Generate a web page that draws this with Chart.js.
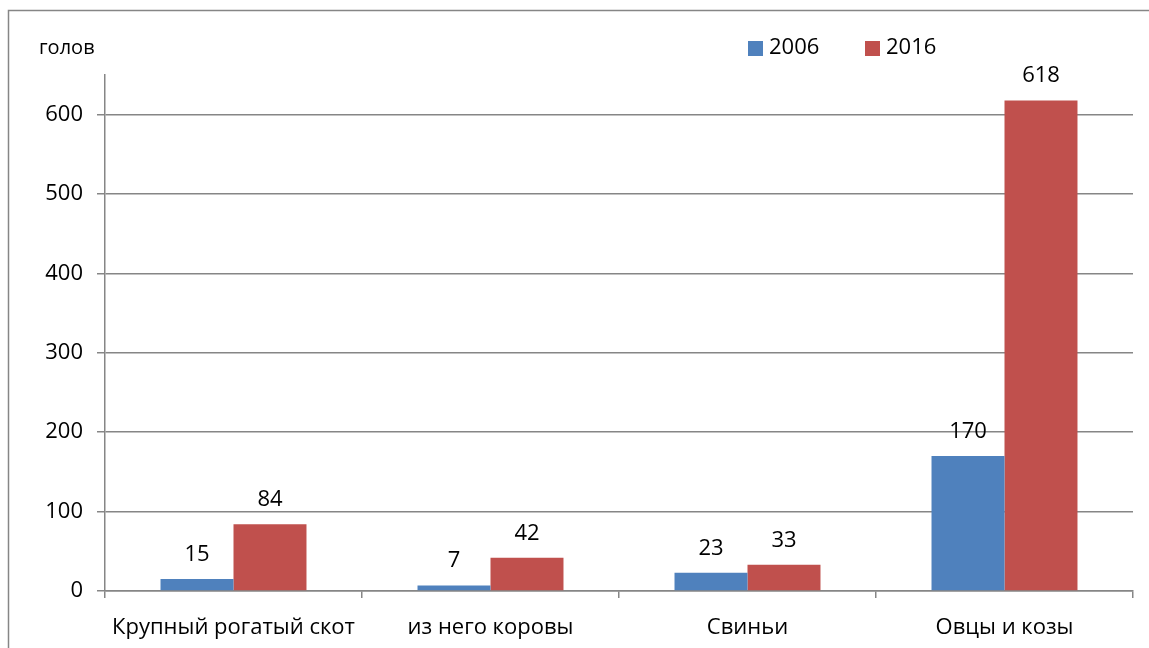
<!DOCTYPE html>
<html>
<head>
<meta charset="utf-8">
<script src="https://cdn.jsdelivr.net/npm/chart.js@4"></script>
<style>
    html, body { margin: 0; padding: 0; background: #fff; }
    #wrap { width: 1149px; height: 648px; position: relative; }
</style>
</head>
<body>
<div id="wrap"><canvas id="livestockChart" width="1149" height="648"></canvas></div>
<script>
// Categories and values
const categories = ['Крупный рогатый скот', 'из него коровы', 'Свиньи', 'Овцы и козы'];
const values2006 = [15, 7, 23, 170];
const values2016 = [84, 42, 33, 618];
const seriesLabels = ['2006', '2016'];
const seriesColors = ['#4F81BD', '#C0504D'];
const yTicks = [0, 100, 200, 300, 400, 500, 600];
const unitLabel = 'голов';

const fontFamily = "'Open Sans', 'Liberation Sans', sans-serif";
const axisGray = '#868686';

// Frame, unit label, legend and value labels
const decorPlugin = {
    id: 'decor',
    beforeDraw(chart) {
        const ctx = chart.ctx;
        ctx.save();
        ctx.strokeStyle = axisGray;
        ctx.lineWidth = 1.5;
        ctx.beginPath();
        ctx.moveTo(8.5, chart.height + 2);
        ctx.lineTo(8.5, 10.5);
        ctx.lineTo(chart.width + 2, 10.5);
        ctx.stroke();
        ctx.restore();
    },
    afterDraw(chart) {
        const ctx = chart.ctx;
        ctx.save();
        ctx.fillStyle = '#000';
        ctx.textBaseline = 'middle';
        ctx.font = '20px ' + fontFamily;
        ctx.fillText(unitLabel, 39, 48);

        // legend
        const legendX = [748, 865];
        ctx.font = '22px ' + fontFamily;
        chart.data.datasets.forEach((ds, i) => {
            ctx.fillStyle = ds.backgroundColor;
            ctx.fillRect(legendX[i], 41, 15, 15);
            ctx.fillStyle = '#000';
            ctx.fillText(ds.label, legendX[i] + 21, 48);
        });

        // value labels above bars
        ctx.font = '22px ' + fontFamily;
        ctx.textAlign = 'center';
        ctx.textBaseline = 'alphabetic';
        chart.data.datasets.forEach((ds, i) => {
            chart.getDatasetMeta(i).data.forEach((bar, j) => {
                ctx.fillText(String(ds.data[j]), bar.x, bar.y - 18);
            });
        });
        ctx.restore();
    }
};

new Chart(document.getElementById('livestockChart').getContext('2d'), {
    type: 'bar',
    data: {
        labels: categories,
        datasets: [
            { label: seriesLabels[0], data: values2006, backgroundColor: seriesColors[0],
              categoryPercentage: 0.568, barPercentage: 1 },
            { label: seriesLabels[1], data: values2016, backgroundColor: seriesColors[1],
              categoryPercentage: 0.568, barPercentage: 1 }
        ]
    },
    options: {
        responsive: false,
        animation: false,
        layout: { padding: { left: 0, right: 16, top: 75, bottom: 0 } },
        plugins: {
            legend: { display: false },
            tooltip: { enabled: false }
        },
        scales: {
            x: {
                afterFit: scale => { scale.height = 57; },
                grid: {
                    offset: true,
                    drawOnChartArea: false,
                    color: axisGray,
                    lineWidth: 1.5,
                    tickLength: 7
                },
                border: { color: axisGray, width: 1.5 },
                ticks: {
                    color: '#000',
                    font: { family: fontFamily, size: 22 },
                    padding: 17,
                    maxRotation: 0,
                    autoSkip: false
                }
            },
            y: {
                min: 0,
                max: 650,
                afterFit: scale => { scale.width = 105; },
                afterBuildTicks: scale => {
                    scale.ticks = yTicks.map(v => ({ value: v }));
                },
                grid: {
                    color: axisGray,
                    lineWidth: 1.5,
                    tickLength: 8
                },
                border: { color: axisGray, width: 1.5 },
                ticks: {
                    color: '#000',
                    font: { family: fontFamily, size: 22 },
                    padding: 14
                }
            }
        }
    },
    plugins: [decorPlugin]
});
</script>
</body>
</html>
